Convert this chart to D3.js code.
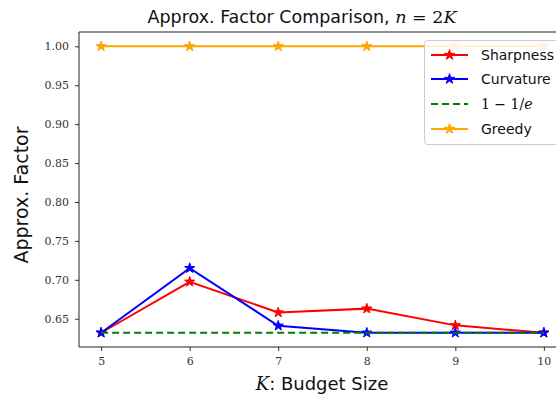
<!DOCTYPE html>
<html>
<head>
<meta charset="utf-8">
<script src="https://cdn.jsdelivr.net/npm/d3@7"></script>
<style>
  html, body { margin: 0; padding: 0; background: #fff; }
  svg { display: block; }
  .tick text { font-family: "DejaVu Serif", "Liberation Serif", serif; }
</style>
</head>
<body>
<svg id="chart" width="556" height="400"></svg>
<script>
// Budget sizes and approximation factors for each method
const budgets = [5, 6, 7, 8, 9, 10];
const sharpness = [0.632, 0.6975, 0.658, 0.663, 0.6415, 0.632];
const curvature = [0.632, 0.715, 0.641, 0.632, 0.632, 0.632];
const bound = [0.6321, 0.6321, 0.6321, 0.6321, 0.6321, 0.6321];
const greedy = [1.0, 1.0, 1.0, 1.0, 1.0, 1.0];
const yTicks = [0.65, 0.70, 0.75, 0.80, 0.85, 0.90, 0.95, 1.00];

const series = [
  { name: "Sharpness", values: sharpness, color: "#ff0000", dash: null, marker: true },
  { name: "Curvature", values: curvature, color: "#0000ff", dash: null, marker: true },
  { name: "bound", values: bound, color: "#008000", dash: "7,4", marker: false },
  { name: "Greedy", values: greedy, color: "#ffa500", dash: null, marker: true }
];

const svg = d3.select("#chart");
const m = { left: 79, top: 32, right: 566, bottom: 347 };

const x = d3.scaleLinear().domain([4.75, 10.25]).range([m.left, m.right]);
const y = d3.scaleLinear().domain([0.6137, 1.0184]).range([m.bottom, m.top]);

// axes
const xAxis = svg.append("g")
  .attr("transform", `translate(0,${m.bottom})`)
  .call(d3.axisBottom(x).tickValues(budgets).tickFormat(d3.format("d")).tickSize(4).tickPadding(6));
const yAxis = svg.append("g")
  .attr("transform", `translate(${m.left},0)`)
  .call(d3.axisLeft(y).tickValues(yTicks).tickFormat(d3.format(".2f")).tickSize(4).tickPadding(6));
[xAxis, yAxis].forEach(g => {
  g.select(".domain").remove();
  g.selectAll(".tick line").attr("stroke", "#222").attr("stroke-width", 0.9);
  g.selectAll(".tick text").attr("font-size", 11).attr("fill", "#333");
});

// spines
svg.append("line").attr("x1", m.left).attr("x2", m.left).attr("y1", m.top).attr("y2", m.bottom)
  .attr("stroke", "#222").attr("stroke-width", 1);
svg.append("line").attr("x1", m.left).attr("x2", m.right).attr("y1", m.bottom).attr("y2", m.bottom)
  .attr("stroke", "#222").attr("stroke-width", 1);
svg.append("line").attr("x1", m.left).attr("x2", m.right).attr("y1", m.top).attr("y2", m.top)
  .attr("stroke", "#222").attr("stroke-width", 1);

const line = d3.line().x((d, i) => x(budgets[i])).y(d => y(d));
const star = d3.symbol().type(d3.symbolStar).size(32);

series.forEach(s => {
  svg.append("path")
    .attr("d", line(s.values))
    .attr("fill", "none")
    .attr("stroke", s.color)
    .attr("stroke-width", 2)
    .attr("stroke-dasharray", s.dash);
  if (s.marker) {
    svg.append("g").selectAll("path").data(s.values).join("path")
      .attr("d", star)
      .attr("transform", (d, i) => `translate(${x(budgets[i])},${y(d)})`)
      .attr("fill", s.color)
      .attr("stroke", s.color)
      .attr("stroke-width", 1);
  }
});

// title
const title = svg.append("text")
  .attr("x", 302).attr("y", 23)
  .attr("text-anchor", "middle")
  .attr("font-family", "'DejaVu Sans', sans-serif")
  .attr("font-size", 17.5)
  .attr("fill", "#111");
title.append("tspan").text("Approx. Factor Comparison, ");
title.append("tspan").attr("font-family", "'DejaVu Serif', serif").attr("font-style", "italic").text("n");
title.append("tspan").attr("font-family", "'DejaVu Serif', serif").text(" = 2");
title.append("tspan").attr("font-family", "'DejaVu Serif', serif").attr("font-style", "italic").text("K");

// x label
const xl = svg.append("text")
  .attr("x", 322).attr("y", 390)
  .attr("text-anchor", "middle")
  .attr("font-family", "'DejaVu Sans', sans-serif")
  .attr("font-size", 18)
  .attr("fill", "#111");
xl.append("tspan").attr("font-family", "'DejaVu Serif', serif").attr("font-style", "italic").text("K");
xl.append("tspan").text(": Budget Size");

// y label
svg.append("text")
  .attr("transform", "translate(28,195) rotate(-90)")
  .attr("text-anchor", "middle")
  .attr("font-family", "'DejaVu Sans', sans-serif")
  .attr("font-size", 19)
  .attr("fill", "#111")
  .text("Approx.  Factor");

// legend
const lg = svg.append("g");
lg.append("rect")
  .attr("x", 424.5).attr("y", 40.5).attr("width", 140).attr("height", 104).attr("rx", 3)
  .attr("fill", "rgba(255,255,255,0.85)").attr("stroke", "#ccc").attr("stroke-width", 1);
const rows = [55, 79, 104, 129];
series.forEach((s, i) => {
  const yy = rows[i];
  lg.append("line").attr("x1", 431).attr("x2", 468).attr("y1", yy).attr("y2", yy)
    .attr("stroke", s.color).attr("stroke-width", 2).attr("stroke-dasharray", s.dash);
  if (s.marker) {
    lg.append("path").attr("d", star).attr("transform", `translate(449.5,${yy})`)
      .attr("fill", s.color).attr("stroke", s.color).attr("stroke-width", 1);
  }
  const t = lg.append("text").attr("x", 481).attr("y", yy + 5)
    .attr("font-family", "'DejaVu Sans', sans-serif").attr("font-size", 14).attr("fill", "#111");
  if (s.name === "bound") {
    t.attr("font-family", "'DejaVu Serif', serif");
    t.append("tspan").text("1 \u2212 1/");
    t.append("tspan").attr("font-style", "italic").text("e");
  } else {
    t.text(s.name);
  }
});
</script>
</body>
</html>
